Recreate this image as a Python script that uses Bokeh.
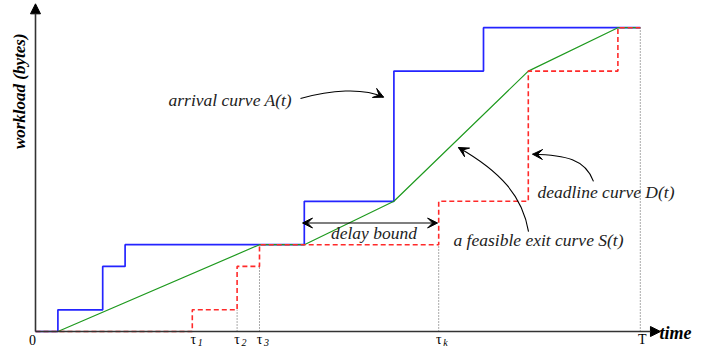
import math
from bokeh.plotting import figure
from bokeh.models import Range1d, Arrow, NormalHead, VeeHead
from bokeh.core.properties import value
from bokeh.embed import file_html
from bokeh.resources import INLINE

# ---- data (time units / workload units) ----
arrival_time = [0, 1, 1, 3, 3, 4, 4, 12, 12, 16, 16, 20, 20, 27]
arrival_work = [0, 0, 1, 1, 3, 3, 4, 4, 6, 6, 12, 12, 14, 14]

exit_time = [1, 10, 12, 16, 22, 26, 27]
exit_work = [0, 4, 4, 6, 12, 14, 14]

deadline_time = [0, 7, 7, 9, 9, 10, 10, 18, 18, 22, 22, 26, 26, 27]
deadline_work = [0, 0, 1, 1, 3, 3, 4, 4, 6, 6, 12, 12, 14, 14]

guide_time = [9, 10, 18, 27]
guide_top = [1, 3, 4, 14]

tick_pos = [0, 7, 9, 10, 18, 27]
tick_main = ["0", "\u03c4", "\u03c4", "\u03c4", "\u03c4", "T"]
tick_sub = ["", "1", "2", "3", "k", ""]

SERIF = value("Liberation Serif")

p = figure(width=699, height=348, output_backend="svg", toolbar_location=None,
           x_range=Range1d(-1.5625, 29.643), y_range=Range1d(-0.783, 15.253),
           min_border=0, min_border_left=0, min_border_right=0,
           min_border_top=0, min_border_bottom=0)
p.xaxis.visible = False
p.yaxis.visible = False
p.grid.visible = False
p.outline_line_color = None
p.background_fill_color = "white"
p.border_fill_color = "white"

# axes with arrow heads
p.add_layout(Arrow(end=NormalHead(size=10, fill_color="black", line_color="black", line_width=1),
                   x_start=0, y_start=0, x_end=27.9, y_end=0,
                   line_color="#333333", line_width=1.6))
p.add_layout(Arrow(end=NormalHead(size=10, fill_color="black", line_color="black", line_width=1),
                   x_start=0, y_start=0, x_end=0, y_end=15.1,
                   line_color="#333333", line_width=1.6))

# dotted guides
p.segment(x0=guide_time, y0=[0] * len(guide_time), x1=guide_time, y1=guide_top,
          line_color="#555555", line_width=1, line_dash="1 2")

# curves
p.line(arrival_time, arrival_work, line_color="#2424ff", line_width=1.7)
p.line(exit_time, exit_work, line_color="#1f9a1f", line_width=1.2)
p.line(deadline_time, deadline_work, line_color="#ff2a2a", line_width=1.6, line_dash="5 3")

# tick labels
p.text(x=tick_pos, y=[-0.369] * len(tick_pos), text=tick_main,
       x_offset=[-3, 1, 0, 0, 0, 2],
       text_font=SERIF, text_font_size="14px", text_align="center",
       text_baseline="middle", text_color="black")
p.text(x=[t + 0.2 for t in tick_pos], y=[-0.507] * len(tick_pos), text=tick_sub,
       x_offset=[0, 1, 0, 0, 0, 0],
       text_font=SERIF, text_font_size="10px", text_font_style="italic",
       text_align="left", text_baseline="middle", text_color="black")

# axis titles
p.text(x=[27.86], y=[-0.05], text=["time"], text_font=SERIF, text_font_size="18px",
       text_font_style="bold italic", text_align="left", text_baseline="middle")
p.text(x=[-0.73], y=[11.07], text=["workload (bytes)"], text_font=SERIF,
       text_font_size="17px", text_font_style="bold italic", angle=math.pi / 2,
       text_align="center", text_baseline="middle")

# annotations
ann_x = [5.94, 15.11, 18.66, 22.41]
ann_y = [10.67, 4.53, 4.22, 6.45]
ann_text = ["arrival curve A(t)", "delay bound", "a feasible exit curve S(t)", "deadline curve D(t)"]
ann_align = ["left", "center", "left", "left"]
p.text(x=ann_x, y=ann_y, text=ann_text, text_align=ann_align, text_font=SERIF,
       text_font_size="17.5px", text_font_style="italic", text_baseline="middle",
       text_color="#222222")

# curved pointer arrows (bezier + head)
bz_x0 = [11.83, 22.01, 24.91]
bz_y0 = [10.74, 4.60, 6.92]
bz_cx0 = [13.17, 21.74, 24.55]
bz_cy0 = [11.12, 6.25, 7.95]
bz_cx1 = [14.60, 20.76, 23.66]
bz_cy1 = [11.25, 7.37, 8.13]
bz_x1 = [15.54, 18.88, 22.19]
bz_y1 = [10.80, 8.48, 8.17]
p.bezier(x0=bz_x0, y0=bz_y0, x1=bz_x1, y1=bz_y1, cx0=bz_cx0, cy0=bz_cy0,
         cx1=bz_cx1, cy1=bz_cy1, line_color="black", line_width=1.1)
for i in range(len(bz_x1)):
    p.add_layout(Arrow(end=VeeHead(size=10, fill_color="black", line_color="black", line_width=1),
                       x_start=bz_cx1[i], y_start=bz_cy1[i], x_end=bz_x1[i], y_end=bz_y1[i],
                       line_alpha=0))

# delay bound double arrow
p.add_layout(Arrow(start=VeeHead(size=10, fill_color="black", line_color="black", line_width=1),
                   end=VeeHead(size=10, fill_color="black", line_color="black", line_width=1),
                   x_start=11.92, y_start=5.0, x_end=17.95, y_end=5.0,
                   line_color="black", line_width=1.2))

open("out.html", "w").write(file_html(p, INLINE))
